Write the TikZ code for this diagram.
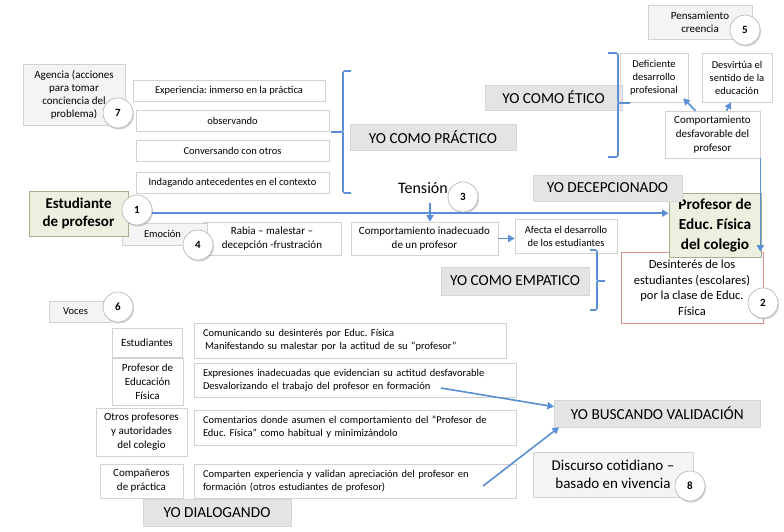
\documentclass[tikz,border=0pt]{standalone}
\usepackage{fontspec}
\setmainfont{Carlito}
\definecolor{boxline}{HTML}{D2D2D2}
\definecolor{softgray}{HTML}{F4F4F4}
\definecolor{yogray}{HTML}{E4E4E4}
\definecolor{yoline}{HTML}{D6D6D6}
\definecolor{greenfill}{HTML}{EBF1DE}
\definecolor{greenline}{HTML}{A3AF8C}
\definecolor{redline}{HTML}{D9918F}
\definecolor{arrowblue}{HTML}{5B8FD3}
\usepackage{tikz}
\usetikzlibrary{shadows,arrows.meta,positioning}
\frenchspacing

\tikzset{
  box/.style={draw=boxline, fill=white, align=center, inner sep=1pt, line width=0.6pt,
    font=\fontsize{10.5}{13}\selectfont},
  softbox/.style={box, fill=softgray},
  leftbox/.style={box, align=left, inner xsep=9pt},
  yobox/.style={draw=yoline, fill=yogray, inner sep=0pt, line width=0.6pt,
    font=\fontsize{15.3}{17}\selectfont},
  greenbox/.style={draw=greenline, fill=greenfill, align=center, line width=0.8pt,
    font=\bfseries\fontsize{15.3}{20}\selectfont},
  num/.style={circle, draw=gray!55, fill=white, minimum size=30pt, inner sep=0pt, line width=0.7pt,
    font=\bfseries\fontsize{11}{11}\selectfont,
    drop shadow={shadow xshift=1pt, shadow yshift=-1.5pt, opacity=0.35}},
  arr/.style={draw=arrowblue, line width=1.6pt, -{Triangle[length=6.5pt,width=7pt]}},
  brace/.style={draw=arrowblue, line width=1.6pt, rounded corners=2pt},
}

\begin{document}
\begin{tikzpicture}[x=1pt,y=-1pt]
        \useasboundingbox (0,0) rectangle (784,531);

        % Agencia
        \node[softbox, minimum width=102pt, minimum height=61pt, font=\fontsize{11}{13}\selectfont] (agencia) at (74,94.5)
            {Agencia (acciones\\para tomar\\conciencia del\\problema)};
        \node[box, minimum width=192pt, minimum height=21pt] (exper) at (229,90.5) {Experiencia: inmerso en la práctica};
        \node[box, minimum width=193pt, minimum height=21pt] (observ) at (232.5,120.5) {observando};
        \node[box, minimum width=193pt, minimum height=21pt] (convers) at (232.5,150.5) {Conversando con otros};
        \node[box, minimum width=193pt, minimum height=21pt] (indag) at (232.5,182.5) {Indagando antecedentes en el contexto};
        \node[yobox, minimum width=166pt, minimum height=26pt] (practico) at (433,137) {YO COMO PRÁCTICO};
        \draw[brace] (351,71) -- (343,71) -- (343,132) -- (331,132) (343,132) -- (343,193) -- (351,193);

        % Etico
        \node[softbox, minimum width=104pt, minimum height=34pt, font=\fontsize{11}{13}\selectfont] (pensam) at (700,22)
            {Pensamiento\\creencia\hspace{6pt}};
        \node[box, minimum width=68pt, minimum height=49pt] (deficiente) at (654,77.5) {Deficiente\\desarrollo\\profesional};
        \node[box, minimum width=70pt, minimum height=49pt] (desvirtua) at (737,77.5) {Desvirtúa el\\sentido de la\\educación};
        \node[box, minimum width=95pt, minimum height=47pt, font=\fontsize{11}{14}\selectfont] (compdesf) at (712.5,134.5)
            {Comportamiento\\desfavorable del\\profesor};
        \node[yobox, minimum width=137pt, minimum height=25pt] (etico) at (553.5,97.5) {YO COMO ÉTICO};
        \draw[brace] (608,53) -- (618,53) -- (618,103) -- (630,103) (618,103) -- (618,157) -- (608,157);
        \draw[arr] ([xshift=-17pt]compdesf.north) -- ([xshift=-5pt,yshift=4pt]deficiente.south east);
        \draw[arr] ([xshift=14pt]compdesf.north) -- ([xshift=-6pt]desvirtua.south);

        % Tension
        \node[box, minimum width=138pt, minimum height=33pt, font=\fontsize{11}{14}\selectfont] (rabia) at (272,238.5)
            {Rabia -- malestar --\\decepción -frustración};
        \node[softbox, minimum width=85pt, minimum height=22pt] (emocion) at (164.5,234) {Emoción\hspace{4pt}};
        \node[box, minimum width=147pt, minimum height=33pt, font=\fontsize{11}{14}\selectfont] (comport) at (424.5,238.5)
            {Comportamiento inadecuado\\de un profesor};
        \node[box, minimum width=102pt, minimum height=34pt] (afecta) at (566,236) {Afecta el desarrollo\\de los estudiantes};
        \node[font=\fontsize{16}{16}\selectfont, inner sep=0pt] (tension) at (423,188) {Tensión};
        \coordinate (tensarrow) at (430,203);
        \draw[arr] (tensarrow) -- (tensarrow |- comport.north);
        \draw[arr] (comport.east) -- (afecta.west |- comport.east);
        \node[yobox, minimum width=148pt, minimum height=28pt] (empatico) at (515,281) {YO COMO EMPATICO};
        \draw[brace] (590,250) -- (597,250) -- (597,281) -- (605,281) (597,281) -- (597,310) -- (590,310);

        % Actores
        \node[box, draw=redline, minimum width=142pt, minimum height=71pt, font=\fontsize{12.5}{15.5}\selectfont] (desint) at (692,287.5)
            {Desinterés de los\\estudiantes (escolares)\\por la clase de Educ.\\Física};
        \node[greenbox, minimum width=99pt, minimum height=45pt, font=\bfseries\fontsize{15}{18}\selectfont] (estud) at (78.5,213.5)
            {Estudiante\\de profesor};
        \node[greenbox, minimum width=92pt, minimum height=64pt] (profesor) at (715,225)
            {Profesor de\\Educ. Física\\del colegio};
        \node[yobox, minimum width=149pt, minimum height=26pt] (decep) at (607.5,188) {YO DECEPCIONADO};
        \draw[arr] (compdesf.south east) -- (compdesf.south east |- desint.north);

        % Voces
        \node[softbox, minimum width=61pt, minimum height=21pt] (voces) at (79.5,311.5) {\hspace{6pt}Voces\hspace{14pt}};
        \node[box, minimum width=70pt, minimum height=29pt, font=\fontsize{11}{14}\selectfont] (estudiantes) at (147,342.5) {Estudiantes};
        \node[box, minimum width=71pt, minimum height=47pt, font=\fontsize{11}{14}\selectfont] (profef) at (147.5,381.5)
            {Profesor de\\Educación\\Física};
        \node[box, minimum width=91pt, minimum height=48pt, font=\fontsize{11}{14}\selectfont] (otros) at (141.5,432)
            {Otros profesores\\y autoridades\\del colegio};
        \node[box, minimum width=83pt, minimum height=34pt, font=\fontsize{11}{14}\selectfont] (companeros) at (141.5,481)
            {Compañeros\\de práctica};
        \node[leftbox, text width=294pt, minimum height=35pt] (comunic) at (350,340.5)
            {Comunicando su desinterés por Educ. Física\\\hspace*{2pt}Manifestando su malestar por la actitud de su “profesor”};
        \node[leftbox, text width=304pt, minimum height=34pt] (expres) at (355,380)
            {Expresiones inadecuadas que evidencian su actitud desfavorable\\Desvalorizando el trabajo del profesor en formación};
        \node[leftbox, text width=304pt, minimum height=35pt] (coment) at (355,427.5)
            {Comentarios donde asumen el comportamiento del “Profesor de\\Educ. Física” como habitual y minimizándolo};
        \node[leftbox, text width=304pt, minimum height=34pt] (comparten) at (355,481)
            {Comparten experiencia y validan apreciación del profesor en\\formación (otros estudiantes de profesor)};
        \node[yobox, minimum width=148pt, minimum height=27pt] (dialogando) at (217,512.5) {YO DIALOGANDO};

        % Validacion
        \node[yobox, minimum width=206pt, minimum height=27pt, anchor=west, inner xsep=8pt] (validacion) at (554,413.5) {YO BUSCANDO VALIDACIÓN};
        \node[softbox, minimum width=160pt, minimum height=45pt, font=\fontsize{15}{18}\selectfont] (discurso) at (613,474.5)
            {Discurso cotidiano --\\basado en vivencia\hspace{4pt}};
        \coordinate (expresend) at (441,388);
        \coordinate (compartend) at (483,486);
        \draw[arr] (expresend) -- ([yshift=-7pt]validacion.north west);
        \draw[arr] (compartend) -- ([xshift=5pt]validacion.south west);

        % Numeros
        \node[num] (c1) at (137,210) {1};
        \node[num] (c2) at (763,303) {2};
        \node[num] (c3) at (463,197) {3};
        \node[num] (c4) at (198,245) {4};
        \node[num] (c5) at (745,30) {5};
        \node[num] (c6) at (118,307) {6};
        \node[num] (c7) at (118,113) {7};
        \node[num] (c8) at (690,486) {8};
        \draw[arr] (c1.-12) -- (c1.-12 -| profesor.west);

\end{tikzpicture}
\end{document}
